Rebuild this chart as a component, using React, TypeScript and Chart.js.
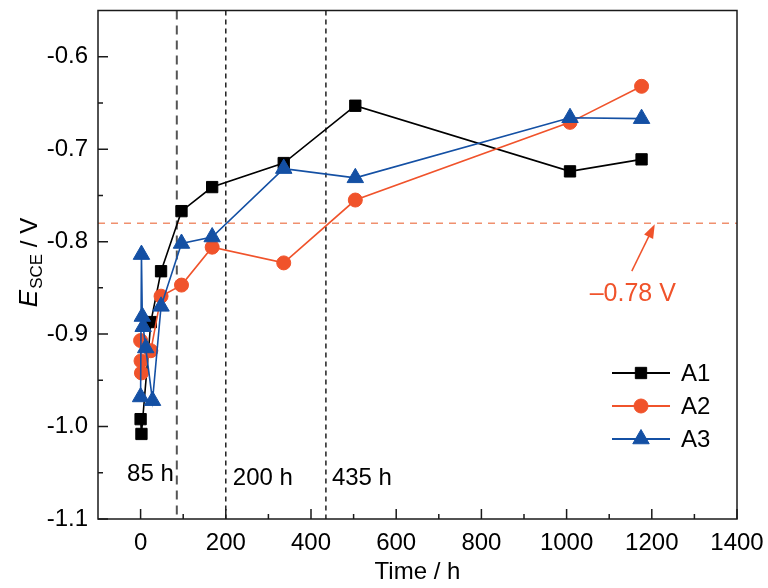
import React, { useEffect, useRef } from 'react';
import { Chart, registerables } from 'chart.js';
import { drawPoint } from 'chart.js/helpers';

Chart.register(...registerables);

// time (h) and open-circuit potential E_SCE (V)
const a1Time = [0, 2, 24, 48, 96, 168, 336, 504, 1008, 1176];
const a1E = [-0.992, -1.008, -0.887, -0.832, -0.767, -0.741, -0.715, -0.653, -0.724, -0.711];

const a2Time = [0, 1, 2, 24, 48, 96, 168, 336, 504, 1008, 1176];
const a2E = [-0.907, -0.929, -0.942, -0.918, -0.859, -0.847, -0.806, -0.823, -0.755, -0.671, -0.632];

const a3Time = [0, 2, 4, 6, 12, 28, 48, 96, 168, 336, 504, 1008, 1176];
const a3E = [-0.968, -0.814, -0.881, -0.892, -0.915, -0.972, -0.87, -0.802, -0.795, -0.721, -0.731, -0.666, -0.667];

const xTicks = [0, 200, 400, 600, 800, 1000, 1200, 1400];
const xMinor = [100, 300, 500, 700, 900, 1100, 1300];
const yTicks = [-1.1, -1.0, -0.9, -0.8, -0.7, -0.6];
const yMinor = [-1.05, -0.95, -0.85, -0.75, -0.65];

const stageTimes = [85, 200, 435];
const stageLabels = ['85 h', '200 h', '435 h'];
const threshold = -0.78;
const thresholdLabel = '\u20130.78 V';

const seriesNames = ['A1', 'A2', 'A3'];
const seriesColors = ['#000000', '#F0532B', '#1450A4'];
const seriesStyles = ['rect', 'circle', 'triangle'];
const seriesRadius = [8, 7, 9.5];

const FONT = '"Liberation Sans", Arial, sans-serif';

const toPoints = (t: number[], e: number[]) => t.map((v, i) => ({ x: v, y: e[i] }));

const noPad = (s: any) => {
  s.paddingTop = 0;
  s.paddingBottom = 0;
  s.paddingLeft = 0;
  s.paddingRight = 0;
};

const overlay = {
  id: 'overlay',
  beforeDatasetsDraw(chart: any) {
    const { ctx, chartArea: a, scales } = chart;
    const { x, y } = scales;
    ctx.save();
    // threshold line
    const ty = y.getPixelForValue(threshold);
    ctx.strokeStyle = '#F0906E';
    ctx.lineWidth = 1.5;
    ctx.setLineDash([7, 6]);
    ctx.beginPath();
    ctx.moveTo(a.left, ty);
    ctx.lineTo(a.right, ty);
    ctx.stroke();
    // stage lines
    stageTimes.forEach((t, i) => {
      const px = x.getPixelForValue(t);
      ctx.strokeStyle = i === 0 ? '#555555' : '#111111';
      ctx.lineWidth = i === 0 ? 2 : 1.4;
      ctx.setLineDash(i === 0 ? [9, 6] : [5, 4]);
      ctx.beginPath();
      ctx.moveTo(px, a.top);
      ctx.lineTo(px, a.bottom);
      ctx.stroke();
    });
    ctx.restore();
  },
  afterDraw(chart: any) {
    const { ctx, chartArea: a, scales } = chart;
    const { x, y } = scales;
    ctx.save();
    ctx.setLineDash([]);
    ctx.strokeStyle = '#1a1a1a';
    ctx.lineWidth = 1.5;
    // inward ticks
    ctx.beginPath();
    xTicks.forEach((v) => {
      const px = x.getPixelForValue(v);
      ctx.moveTo(px, a.bottom);
      ctx.lineTo(px, a.bottom - 10);
    });
    xMinor.forEach((v) => {
      const px = x.getPixelForValue(v);
      ctx.moveTo(px, a.bottom);
      ctx.lineTo(px, a.bottom - 5);
    });
    yTicks.forEach((v) => {
      const py = y.getPixelForValue(v);
      ctx.moveTo(a.left, py);
      ctx.lineTo(a.left + 10, py);
    });
    yMinor.forEach((v) => {
      const py = y.getPixelForValue(v);
      ctx.moveTo(a.left, py);
      ctx.lineTo(a.left + 5, py);
    });
    ctx.stroke();
    // frame
    ctx.strokeRect(a.left, a.top, a.right - a.left, a.bottom - a.top);

    // stage labels
    ctx.fillStyle = '#000';
    ctx.font = `24px ${FONT}`;
    ctx.textBaseline = 'middle';
    ctx.textAlign = 'right';
    ctx.fillText(stageLabels[0], x.getPixelForValue(stageTimes[0]) - 3, 474);
    ctx.textAlign = 'left';
    ctx.fillText(stageLabels[1], x.getPixelForValue(stageTimes[1]) + 7, 478);
    ctx.fillText(stageLabels[2], x.getPixelForValue(stageTimes[2]) + 6, 478);

    // threshold annotation with arrow
    const hx = x.getPixelForValue(1207);
    const hy = y.getPixelForValue(threshold) + 1;
    const tx = hx - 23;
    const tyy = hy + 47;
    ctx.strokeStyle = '#F0532B';
    ctx.fillStyle = '#F0532B';
    ctx.lineWidth = 1.5;
    const ang = Math.atan2(hy - tyy, hx - tx);
    ctx.beginPath();
    ctx.moveTo(tx, tyy);
    ctx.lineTo(hx - Math.cos(ang) * 10, hy - Math.sin(ang) * 10);
    ctx.stroke();
    ctx.beginPath();
    ctx.moveTo(hx, hy);
    ctx.lineTo(hx - Math.cos(ang) * 14 + Math.sin(ang) * 5, hy - Math.sin(ang) * 14 - Math.cos(ang) * 5);
    ctx.lineTo(hx - Math.cos(ang) * 14 - Math.sin(ang) * 5, hy - Math.sin(ang) * 14 + Math.cos(ang) * 5);
    ctx.closePath();
    ctx.fill();
    ctx.font = `25px ${FONT}`;
    ctx.textAlign = 'center';
    ctx.fillText(thresholdLabel, hx - 22, hy + 70);

    // legend
    seriesNames.forEach((name, i) => {
      const ly = 373 + i * 33;
      ctx.strokeStyle = seriesColors[i];
      ctx.fillStyle = seriesColors[i];
      ctx.lineWidth = 1.8;
      ctx.beginPath();
      ctx.moveTo(612, ly);
      ctx.lineTo(670, ly);
      ctx.stroke();
      ctx.lineWidth = 1;
      drawPoint(ctx, { pointStyle: seriesStyles[i], radius: seriesRadius[i], rotation: 0, borderWidth: 1 } as any, 641, ly);
      ctx.fillStyle = '#000';
      ctx.font = `24px ${FONT}`;
      ctx.textAlign = 'left';
      ctx.fillText(name, 681, ly + 1);
    });

    // axis titles
    ctx.fillStyle = '#000';
    ctx.textAlign = 'center';
    ctx.font = `24px ${FONT}`;
    ctx.fillText('Time / h', (a.left + a.right) / 2, 572);

    ctx.translate(30, 263);
    ctx.rotate(-Math.PI / 2);
    ctx.textAlign = 'left';
    const fE = `italic 26px ${FONT}`;
    const fSub = `17px ${FONT}`;
    const fRest = `24px ${FONT}`;
    ctx.font = fE;
    const wE = ctx.measureText('E').width;
    ctx.font = fSub;
    const wS = ctx.measureText('SCE').width;
    ctx.font = fRest;
    const wR = ctx.measureText(' / V').width;
    let cx = -(wE + wS + wR) / 2;
    ctx.font = fE;
    ctx.fillText('E', cx, 0);
    cx += wE + 1;
    ctx.font = fSub;
    ctx.fillText('SCE', cx, 7);
    cx += wS;
    ctx.font = fRest;
    ctx.fillText(' / V', cx, 0);
    ctx.restore();
  },
};

const App: React.FC = () => {
  const canvasRef = useRef<HTMLCanvasElement>(null);

  useEffect(() => {
    if (!canvasRef.current) return;
    const series = [toPoints(a1Time, a1E), toPoints(a2Time, a2E), toPoints(a3Time, a3E)];
    const chart = new Chart(canvasRef.current, {
      type: 'line',
      data: {
        datasets: series.map((data, i) => ({
          label: seriesNames[i],
          data,
          borderColor: seriesColors[i],
          backgroundColor: seriesColors[i],
          borderWidth: 1.6,
          pointStyle: seriesStyles[i] as any,
          pointRadius: seriesRadius[i],
          pointBorderWidth: 1,
          pointBorderColor: seriesColors[i],
          pointBackgroundColor: seriesColors[i],
          tension: 0,
          order: 3 - i,
        })),
      },
      options: {
        responsive: false,
        animation: false,
        layout: { padding: { left: 0, right: 31, top: 2, bottom: 0 } },
        plugins: { legend: { display: false }, tooltip: { enabled: false } },
        scales: {
          x: {
            type: 'linear',
            min: -100,
            max: 1400,
            afterBuildTicks: (s: any) => {
              s.ticks = xTicks.map((v) => ({ value: v }));
            },
            afterFit: (s: any) => {
              s.height = 69;
              noPad(s);
            },
            grid: { display: false, drawTicks: false },
            border: { display: false },
            ticks: {
              padding: 10,
              color: '#000',
              font: { family: FONT, size: 24 },
              callback: (v: any) => String(v),
            },
          },
          y: {
            type: 'linear',
            min: -1.1,
            max: -0.55,
            afterBuildTicks: (s: any) => {
              s.ticks = yTicks.map((v) => ({ value: v }));
            },
            afterFit: (s: any) => {
              s.width = 98;
              noPad(s);
            },
            grid: { display: false, drawTicks: false },
            border: { display: false },
            ticks: {
              padding: 10,
              color: '#000',
              font: { family: FONT, size: 24 },
              callback: (v: any) => Number(v).toFixed(1),
            },
          },
        },
      },
      plugins: [overlay],
    });
    return () => chart.destroy();
  }, []);

  return (
    <div style={{ position: 'absolute', left: 0, top: 0, width: 768, height: 588, background: '#fff' }}>
      <canvas ref={canvasRef} width={768} height={588} style={{ display: 'block' }} />
    </div>
  );
};

export default App;
